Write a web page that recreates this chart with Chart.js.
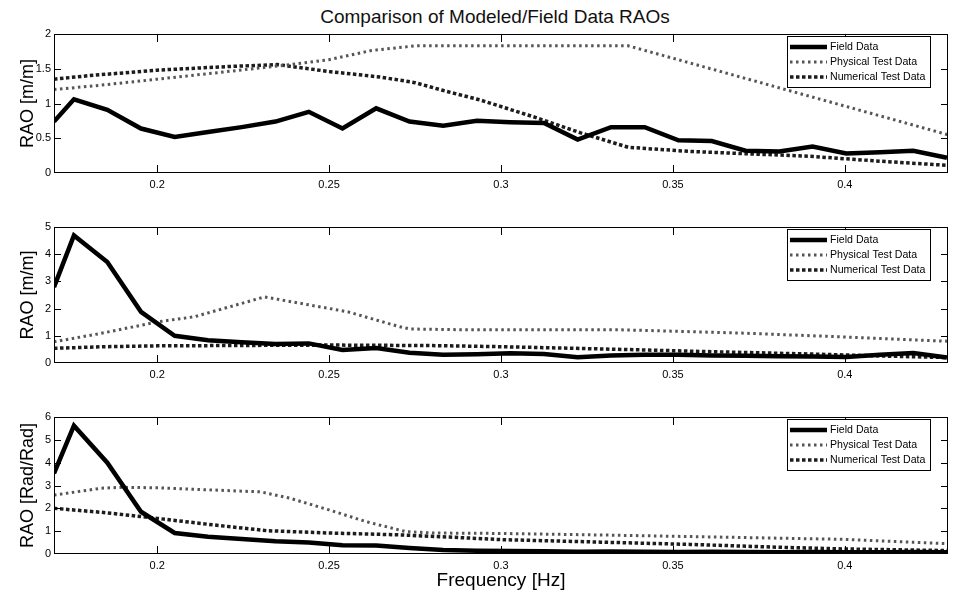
<!DOCTYPE html>
<html>
<head>
<meta charset="utf-8">
<script src="https://cdn.jsdelivr.net/npm/chart.js@4.4.0/dist/chart.umd.min.js"></script>
<style>
    body { margin: 0; background: #fff; width: 958px; height: 597px; position: relative; overflow: hidden; font-family: "Liberation Sans", Arial, sans-serif; }
    #titre { position: absolute; top: 6px; left: 40px; width: 910px; text-align: center; font-size: 19px; line-height: 22px; color: #111; }
    .pan { position: absolute; left: 0; width: 958px; }
</style>
</head>
<body>
<div id="titre">Comparison of Modeled/Field Data RAOs</div>
<div class="pan" style="top:0px"><canvas id="g1" width="958" height="195"></canvas></div>
<div class="pan" style="top:195px"><canvas id="g2" width="958" height="195"></canvas></div>
<div class="pan" style="top:390px"><canvas id="g3" width="958" height="207"></canvas></div>
<script>
// frequences des mesures terrain (meme grille pour les 3 graphes)
const freq_field = [0.17, 0.1758, 0.1855, 0.1953, 0.2051, 0.2148, 0.2246, 0.2344, 0.2441, 0.2539, 0.2637, 0.2734, 0.2832, 0.2930,
    0.3027, 0.3125, 0.3223, 0.3320, 0.3418, 0.3516, 0.3613, 0.3711, 0.3809, 0.3906, 0.4004, 0.4102, 0.4199, 0.4297];

// graphe 1 : RAO [m/m]
const field_1 = [0.74, 1.06, 0.91, 0.64, 0.52, 0.59, 0.66, 0.74, 0.88, 0.64, 0.93, 0.74, 0.68, 0.75,
    0.73, 0.72, 0.48, 0.66, 0.66, 0.47, 0.46, 0.32, 0.31, 0.38, 0.28, 0.30, 0.32, 0.22];
const freq_phys_1 = [0.17, 0.185, 0.20, 0.215, 0.237, 0.25, 0.262, 0.275, 0.337, 0.43];
const phys_1 = [1.20, 1.27, 1.35, 1.43, 1.55, 1.63, 1.76, 1.83, 1.83, 0.55];
const freq_num_1 = [0.17, 0.18, 0.20, 0.22, 0.235, 0.25, 0.265, 0.275, 0.283, 0.294, 0.31, 0.323, 0.337, 0.355, 0.37, 0.39, 0.41, 0.43];
const num_1 = [1.35, 1.40, 1.48, 1.53, 1.56, 1.46, 1.38, 1.30, 1.19, 1.05, 0.80, 0.58, 0.37, 0.31, 0.28, 0.24, 0.17, 0.11];

// graphe 2 : RAO [m/m]
const field_2 = [2.79, 4.69, 3.71, 1.88, 1.00, 0.84, 0.76, 0.70, 0.72, 0.48, 0.55, 0.38, 0.30, 0.32,
    0.36, 0.33, 0.21, 0.28, 0.30, 0.30, 0.28, 0.27, 0.25, 0.24, 0.22, 0.30, 0.37, 0.20];
const freq_phys_2 = [0.17, 0.1837, 0.195, 0.20, 0.2108, 0.2226, 0.2312, 0.2555, 0.2706, 0.2735, 0.29, 0.335, 0.35, 0.37, 0.393, 0.43];
const phys_2 = [0.78, 1.09, 1.38, 1.51, 1.70, 2.12, 2.43, 1.88, 1.33, 1.25, 1.22, 1.22, 1.17, 1.10, 0.99, 0.80];
const freq_num_2 = [0.17, 0.185, 0.20, 0.25, 0.28, 0.30, 0.335, 0.36, 0.39, 0.41, 0.43];
const num_2 = [0.54, 0.60, 0.63, 0.66, 0.64, 0.60, 0.50, 0.42, 0.33, 0.26, 0.20];

// graphe 3 : RAO [Rad/Rad]
const field_3 = [3.53, 5.62, 4.00, 1.85, 0.92, 0.76, 0.66, 0.56, 0.50, 0.38, 0.37, 0.26, 0.18, 0.14,
    0.13, 0.12, 0.10, 0.11, 0.10, 0.09, 0.10, 0.09, 0.08, 0.09, 0.08, 0.08, 0.09, 0.08];
const freq_phys_3 = [0.17, 0.1837, 0.19, 0.20, 0.2166, 0.2302, 0.2387, 0.25, 0.2607, 0.2723, 0.28, 0.30, 0.33, 0.36, 0.40, 0.43];
const phys_3 = [2.58, 2.88, 2.92, 2.90, 2.80, 2.72, 2.44, 1.93, 1.42, 0.98, 0.92, 0.90, 0.83, 0.75, 0.64, 0.45];
const freq_num_3 = [0.17, 0.185, 0.20, 0.2166, 0.232, 0.25, 0.27, 0.285, 0.30, 0.329, 0.355, 0.38, 0.40, 0.43];
const num_3 = [2.00, 1.81, 1.56, 1.27, 1.02, 0.92, 0.84, 0.74, 0.63, 0.52, 0.42, 0.30, 0.22, 0.15];

const x_ticks = [0.2, 0.25, 0.3, 0.35, 0.4];
const series_names = ['Field Data', 'Physical Test Data', 'Numerical Test Data'];

Chart.defaults.font.family = '"Liberation Sans", Arial, sans-serif';
Chart.defaults.color = '#000';

function points(xs, ys) {
    return xs.map((x, i) => ({x: x, y: ys[i]}));
}

function make_datasets(field, fx_phys, phys, fx_num, num) {
    return [
        {label: series_names[0], data: points(freq_field, field), borderColor: '#000', borderWidth: 4.5},
        {label: series_names[1], data: points(fx_phys, phys), borderColor: '#555', borderWidth: 3, borderDash: [2.5, 3.5]},
        {label: series_names[2], data: points(fx_num, num), borderColor: '#1c1c1c', borderWidth: 3.5, borderDash: [3.5, 2.5]}
    ].map(d => Object.assign(d, {pointRadius: 0, fill: false, clip: 0, tension: 0}));
}

// cadre, graduations vers l'interieur et legende dans le coin
var cadre_plugin = {
    id: 'cadre',
    afterDraw(chart) {
        const ctx = chart.ctx, a = chart.chartArea;
        const sx = chart.scales.x, sy = chart.scales.y;
        ctx.save();
        ctx.strokeStyle = '#000';
        ctx.lineWidth = 1;
        ctx.strokeRect(a.left + 0.5, a.top + 0.5, a.right - a.left - 1, a.bottom - a.top - 1);
        ctx.beginPath();
        for (const t of sx.ticks) {
            let px = Math.round(sx.getPixelForValue(t.value)) + 0.5;
            ctx.moveTo(px, a.bottom); ctx.lineTo(px, a.bottom - 8);
            ctx.moveTo(px, a.top); ctx.lineTo(px, a.top + 8);
        }
        for (const t of sy.ticks) {
            if (t.value <= sy.min || t.value >= sy.max) continue;
            let py = Math.round(sy.getPixelForValue(t.value)) + 0.5;
            ctx.moveTo(a.left, py); ctx.lineTo(a.left + 7, py);
            ctx.moveTo(a.right, py); ctx.lineTo(a.right - 7, py);
        }
        ctx.stroke();

        let bx = a.right - 161, by = a.top + 2;
        ctx.fillStyle = '#fff';
        ctx.fillRect(bx, by, 143, 51);
        ctx.strokeRect(bx + 0.5, by + 0.5, 143, 51);
        ctx.font = '10.6px "Liberation Sans", Arial, sans-serif';
        ctx.textBaseline = 'middle';
        chart.data.datasets.forEach((ds, i) => {
            let ly = by + 11 + i * 15;
            ctx.beginPath();
            ctx.strokeStyle = ds.borderColor;
            ctx.lineWidth = ds.borderWidth;
            ctx.setLineDash(ds.borderDash || []);
            ctx.moveTo(bx + 3, ly); ctx.lineTo(bx + 40, ly);
            ctx.stroke();
            ctx.setLineDash([]);
            ctx.fillStyle = '#000';
            ctx.fillText(ds.label, bx + 43, ly);
        });
        ctx.restore();
    }
};

function make_chart(id, datasets, y_max, y_step, y_title, pad_top, x_height, x_title) {
    return new Chart(id, {
        type: 'line',
        data: {datasets: datasets},
        plugins: [cadre_plugin],
        options: {
            responsive: false,
            animation: false,
            layout: {padding: {top: pad_top, right: 10, left: 0, bottom: 0}},
            plugins: {legend: {display: false}, tooltip: {enabled: false}},
            scales: {
                x: {
                    type: 'linear', min: 0.17, max: 0.43,
                    afterBuildTicks: s => { s.ticks = x_ticks.map(v => ({value: v})); },
                    afterFit: s => { s.height = x_height; },
                    grid: {display: false, drawTicks: false},
                    border: {display: false},
                    ticks: {padding: 5, font: {size: 11}, callback: v => String(Math.round(v * 100) / 100)},
                    title: {display: !!x_title, text: x_title || '', font: {size: 19}, padding: {top: 0, bottom: 5}}
                },
                y: {
                    min: 0, max: y_max,
                    afterFit: s => { s.width = 54; },
                    grid: {display: false, drawTicks: false},
                    border: {display: false},
                    ticks: {stepSize: y_step, padding: 3, font: {size: 11}, callback: v => String(v)},
                    title: {display: true, text: y_title, font: {size: 18}, padding: {top: 17, bottom: 0}}
                }
            }
        }
    });
}

make_chart('g1', make_datasets(field_1, freq_phys_1, phys_1, freq_num_1, num_1), 2, 0.5, 'RAO [m/m]', 34, 22);
make_chart('g2', make_datasets(field_2, freq_phys_2, phys_2, freq_num_2, num_2), 5, 1, 'RAO [m/m]', 32, 27);
make_chart('g3', make_datasets(field_3, freq_phys_3, phys_3, freq_num_3, num_3), 6, 1, 'RAO [Rad/Rad]', 27, 43, 'Frequency [Hz]');
</script>
</body>
</html>
